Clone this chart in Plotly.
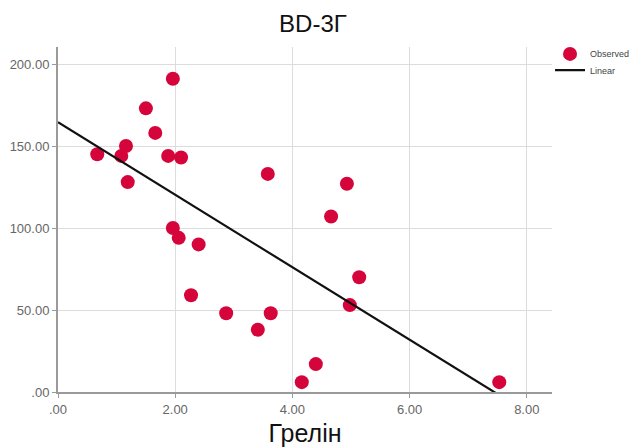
import plotly.graph_objects as go

# Observed values: ghrelin (x) vs BD-3G (y)
ghrelin = [0.67, 1.08, 1.16, 1.19, 1.50, 1.66, 1.88, 1.96, 2.10, 3.58,
           1.96, 2.06, 2.40, 2.27, 2.87, 3.41, 3.63, 4.16,
           4.93, 4.66, 5.14, 4.98, 4.40, 7.53]
bd3g = [145, 144, 150, 128, 173, 158, 144, 191, 143, 133,
        100, 94, 90, 59, 48, 38, 48, 6,
        127, 107, 70, 53, 17, 6]

# Linear fit coefficients
intercept = 164.5
slope = -22.1

x_ticks = [0, 2, 4, 6, 8]
x_tick_text = [".00", "2.00", "4.00", "6.00", "8.00"]
y_ticks = [0, 50, 100, 150, 200]
y_tick_text = [".00", "50.00", "100.00", "150.00", "200.00"]

line_x = [0, max(ghrelin)]
line_y = [intercept + slope * v for v in line_x]

FONT = "Liberation Sans, Arial"

fig = go.Figure()
fig.add_trace(go.Scatter(
    x=ghrelin, y=bd3g, mode="markers", name="Observed", legend="legend",
    marker=dict(color="#d5053b", size=14, line=dict(width=0)),
))
fig.add_trace(go.Scatter(
    x=line_x, y=line_y, mode="lines", name="Linear", legend="legend2",
    line=dict(color="#111111", width=2.2),
))

axis_common = dict(
    showgrid=True, gridcolor="#dcdcdc", gridwidth=1,
    showline=True, linecolor="#9a9a9a", linewidth=2,
    ticks="outside", ticklen=4, tickcolor="#9a9a9a",
    tickfont=dict(family=FONT, size=13, color="#666666"),
    zeroline=False,
)

legend_common = dict(
    xanchor="left", yanchor="middle",
    font=dict(family=FONT, size=9, color="#444444"),
    itemwidth=30, bgcolor="rgba(0,0,0,0)", borderwidth=0,
)

fig.update_layout(
    width=636, height=447,
    margin=dict(l=58, r=84, t=47, b=55, autoexpand=False),
    paper_bgcolor="white", plot_bgcolor="white",
    title=dict(text="BD-3Г", x=0.492, xanchor="center", y=0.948, yanchor="middle",
               font=dict(family=FONT, size=24, color="#111111")),
    xaxis=dict(axis_common, range=[0, 8.43], tickvals=x_ticks, ticktext=x_tick_text,
               title=dict(text="Грелін", standoff=12,
                          font=dict(family=FONT, size=25, color="#111111"))),
    yaxis=dict(axis_common, range=[0, 210.4], tickvals=y_ticks, ticktext=y_tick_text),
    showlegend=True,
    legend=dict(legend_common, x=0.996, y=0.98),
    legend2=dict(legend_common, x=0.996, y=0.933),
)

fig.write_html("out.html")
